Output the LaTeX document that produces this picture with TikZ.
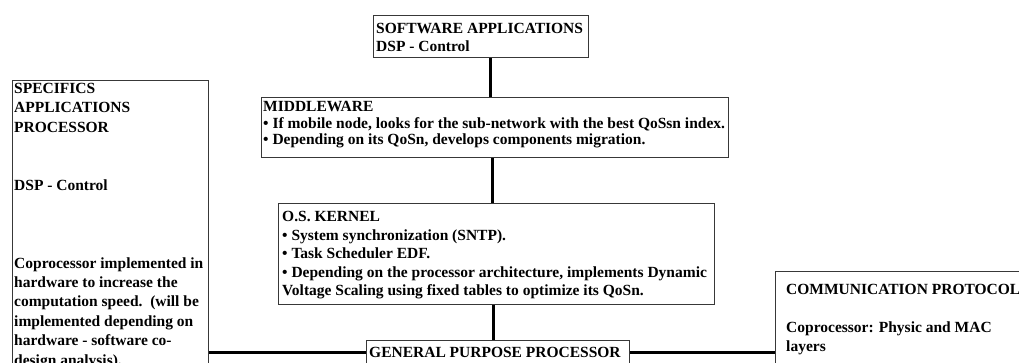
\documentclass[tikz,border=0pt]{standalone}
\usepackage{fontspec}
\setmainfont{Liberation Serif}
\begin{document}
\begin{tikzpicture}[x=1pt,y=-1pt,
  box/.style={draw=black!78, line width=1.2pt, inner sep=0pt, anchor=north west, fill=none},
  link/.style={line width=3pt, draw=black},
  txt/.style={anchor=north west, inner sep=0pt, align=left, font=\bfseries\fontsize{15.5}{19.4}\selectfont}]
\useasboundingbox (0,0) rectangle (1019,363);
\clip (0,0) rectangle (1019,363);
% boxes
\node[box, minimum width=196pt, minimum height=320pt] (sap) at (12,80) {};
\node[box, minimum width=215pt, minimum height=42pt] (sw) at (373,15) {};
\node[box, minimum width=467pt, minimum height=60pt] (mw) at (261,97) {};
\node[box, minimum width=436pt, minimum height=101pt] (os) at (278,203) {};
\node[box, minimum width=263pt, minimum height=60pt] (gpp) at (366,340) {};
\node[box, minimum width=260pt, minimum height=130pt] (comm) at (775,271) {};
% texts
\node[txt] (saptxt) at (14,83) {SPECIFICS\\APPLICATIONS\\PROCESSOR\\[38.8pt]DSP - Control\\[58.2pt]Coprocessor implemented in\\hardware to increase the\\computation speed.\ \ (will be\\implemented depending on\\hardware - software co-\\design analysis).};
\node[txt, font=\bfseries\fontsize{15.5}{18}\selectfont] (swtxt) at (376,23.5) {SOFTWARE APPLICATIONS\\DSP - Control};
\node[txt, font=\bfseries\fontsize{15.5}{16.5}\selectfont] (mwtxt) at (263,101.5) {MIDDLEWARE\\\textbullet\ If mobile node, looks for the sub-network with the best QoSsn index.\\\textbullet\ Depending on its QoSn, develops components migration.};
\node[txt, font=\bfseries\fontsize{15.5}{18.5}\selectfont] (ostxt) at (282,211.5) {O.S. KERNEL\\\textbullet\ System synchronization (SNTP).\\\textbullet\ Task Scheduler EDF.\\\textbullet\ Depending on the processor architecture, implements Dynamic\\Voltage Scaling using fixed tables to optimize its QoSn.};
\node[txt] (gpptxt) at (369,347.5) {GENERAL PURPOSE PROCESSOR};
\node[txt, font=\bfseries\fontsize{15.5}{19}\selectfont] (commtxt) at (786,284.5) {COMMUNICATION PROTOCOL\\[19pt]Coprocessor: Physic and MAC\\layers};
% connectors
\draw[link] (sw.south -| 490,0) -- (mw.north -| 490,0);
\draw[link] (mw.south -| 492,0) -- (os.north -| 492,0);
\draw[link] (os.south -| 493,0) -- (gpp.north -| 493,0);
\draw[link] (sap.east |- 0,352) -- (gpp.west |- 0,352);
\draw[link] (gpp.east |- 0,352) -- (comm.west |- 0,352);
\end{tikzpicture}
\end{document}
